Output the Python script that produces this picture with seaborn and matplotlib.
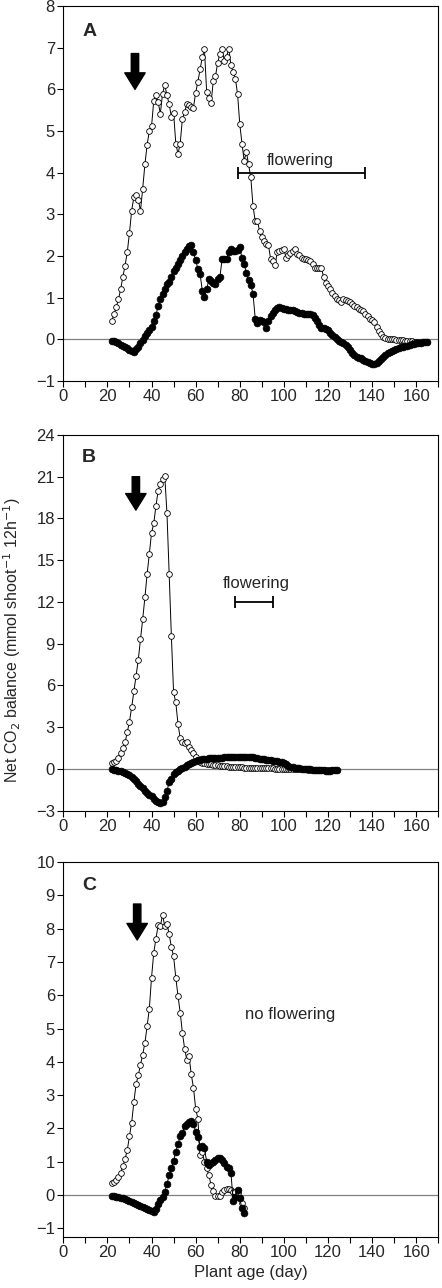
import matplotlib
matplotlib.use("Agg")
import matplotlib.pyplot as plt
import seaborn as sns
from matplotlib.ticker import MultipleLocator, FixedLocator
from matplotlib.patches import ArrowStyle

# ---------------- data ----------------
days_A = list(range(22, 166))
open_A = [0.45, 0.6, 0.77, 0.96, 1.2, 1.5, 1.77, 2.09, 2.56, 3.09,
          3.42, 3.46, 3.34, 3.09, 3.62, 4.2, 4.67, 5.0, 5.11, 5.72,
          5.86, 5.69, 5.42, 5.9, 6.1, 5.86, 5.64, 5.34, 5.44, 4.7,
          4.45, 4.7, 5.3, 5.45, 5.65, 5.62, 5.58, 5.56, 5.92, 6.18,
          6.48, 6.77, 6.96, 5.93, 5.8, 5.68, 6.2, 6.32, 6.64, 6.86,
          6.98, 6.68, 6.78, 6.98, 6.58, 6.42, 6.26, 5.89, 5.17, 4.7,
          4.29, 4.5, 4.2, 3.89, 3.2, 2.84, 2.84, 2.6, 2.45, 2.37,
          2.28, 2.26, 1.93, 1.88, 1.78, 2.09, 2.13, 2.15, 2.16, 1.96,
          2.02, 2.08, 2.12, 2.16, 2.06, 2.02, 1.96, 1.92, 1.92, 1.9,
          1.89, 1.82, 1.72, 1.72, 1.72, 1.72, 1.5, 1.36, 1.28, 1.2,
          1.12, 1.05, 0.98, 0.94, 0.9, 0.96, 0.95, 0.93, 0.9, 0.85,
          0.8, 0.77, 0.74, 0.7, 0.67, 0.62, 0.56, 0.5, 0.47, 0.42,
          0.3, 0.2, 0.12, 0.06, 0.02, 0.01, 0.0, 0.0, 0.0, -0.01,
          -0.01, -0.02, -0.02, -0.03, -0.04, -0.05, -0.05, -0.06, -0.06, -0.07,
          -0.07, -0.07, -0.07, -0.06]
filled_A = [-0.03, -0.05, -0.07, -0.1, -0.13, -0.15, -0.18, -0.21, -0.26, -0.29,
            -0.3, -0.24, -0.18, -0.1, -0.02, 0.07, 0.14, 0.22, 0.3, 0.45,
            0.58, 0.8, 0.98, 1.1, 1.22, 1.32, 1.38, 1.5, 1.63, 1.72,
            1.8, 1.9, 2.0, 2.1, 2.18, 2.25, 2.26, 2.09, 1.9, 1.7,
            1.58, 1.17, 1.02, 1.2, 1.44, 1.4, 1.36, 1.33, 1.46, 1.5,
            1.92, 1.94, 1.92, 2.1, 2.16, 2.12, 2.12, 2.14, 2.21, 1.95,
            1.8, 1.6, 1.42, 1.3, 1.1, 0.5, 0.4, 0.46, 0.44, 0.42,
            0.26, 0.45, 0.56, 0.64, 0.7, 0.75, 0.77, 0.76, 0.74, 0.72,
            0.7, 0.7, 0.7, 0.68, 0.66, 0.64, 0.63, 0.62, 0.61, 0.62,
            0.61, 0.58, 0.52, 0.44, 0.35, 0.28, 0.28, 0.25, 0.22, 0.16,
            0.1, 0.06, 0.0, -0.04, -0.06, -0.09, -0.13, -0.19, -0.26, -0.33,
            -0.38, -0.42, -0.44, -0.46, -0.49, -0.52, -0.55, -0.58, -0.59, -0.59,
            -0.57, -0.52, -0.47, -0.42, -0.38, -0.34, -0.31, -0.28, -0.26, -0.23,
            -0.21, -0.19, -0.18, -0.16, -0.15, -0.14, -0.12, -0.11, -0.1, -0.09,
            -0.08, -0.07, -0.07, -0.06]

days_B = list(range(22, 125))
open_B = [0.4, 0.53, 0.6, 0.77, 1.18, 1.49, 1.9, 2.64, 3.4, 4.44,
          5.57, 6.7, 7.85, 9.33, 10.77, 12.33, 14.0, 15.45, 16.97, 17.64,
          18.89, 20.0, 20.5, 20.85, 21.05, 18.36, 14.0, 9.52, 5.5, 4.78,
          3.24, 2.2, 1.97, 1.85, 1.9, 1.6, 1.37, 1.13, 0.84, 0.65,
          0.53, 0.45, 0.41, 0.38, 0.35, 0.33, 0.3, 0.28, 0.26, 0.24,
          0.22, 0.2, 0.19, 0.17, 0.16, 0.15, 0.14, 0.13, 0.12, 0.11,
          0.1, 0.1, 0.09, 0.09, 0.08, 0.08, 0.07, 0.07, 0.06, 0.06,
          0.05, 0.05, 0.04, 0.04, 0.03, 0.03, 0.02, 0.02, 0.01, 0.0,
          0.0, -0.01, -0.01, -0.02, -0.02, -0.03, -0.03, -0.04, -0.04, -0.05,
          -0.05, -0.06, -0.06, -0.07, -0.07, -0.08, -0.08, -0.08, -0.08, -0.08,
          -0.07, -0.07, -0.06]
filled_B = [-0.02, -0.05, -0.1, -0.14, -0.18, -0.24, -0.3, -0.38, -0.47, -0.58,
            -0.72, -0.88, -1.05, -1.2, -1.4, -1.56, -1.72, -1.85, -1.98, -2.15,
            -2.3, -2.4, -2.47, -2.4, -2.05, -1.6, -0.95, -0.7, -0.4, -0.25,
            -0.13, 0.0, 0.08, 0.15, 0.25, 0.35, 0.4, 0.5, 0.58, 0.63,
            0.67, 0.7, 0.72, 0.74, 0.76, 0.77, 0.78, 0.8, 0.81, 0.82,
            0.82, 0.83, 0.83, 0.84, 0.84, 0.85, 0.86, 0.87, 0.88, 0.89,
            0.89, 0.88, 0.87, 0.85, 0.83, 0.8, 0.77, 0.74, 0.71, 0.69,
            0.66, 0.64, 0.62, 0.6, 0.57, 0.54, 0.5, 0.47, 0.43, 0.35,
            0.2, 0.15, 0.12, 0.1, 0.07, 0.05, 0.03, 0.02, 0.0, -0.01,
            -0.03, -0.05, -0.06, -0.08, -0.09, -0.1, -0.11, -0.12, -0.12, -0.12,
            -0.11, -0.1, -0.09]

days_C = list(range(22, 83))
open_C = [0.35, 0.4, 0.45, 0.53, 0.67, 0.87, 1.08, 1.35, 1.77, 2.18,
          2.8, 3.33, 3.6, 3.92, 4.22, 4.57, 5.07, 5.59, 6.53, 7.27,
          7.7, 8.1, 8.07, 8.42, 8.07, 8.15, 7.83, 7.45, 7.17, 6.53,
          5.98, 5.48, 4.87, 4.4, 4.05, 4.18, 3.63, 3.23, 2.6, 2.3,
          1.2, 1.3, 1.0, 0.8, 0.6, 0.3, 0.13, -0.03, -0.03, -0.03,
          0.1, 0.15, 0.18, 0.18, 0.15, 0.1, 0.08, 0.05, -0.1, -0.23,
          -0.4]
filled_C = [-0.02, -0.04, -0.06, -0.07, -0.09, -0.1, -0.12, -0.14, -0.18, -0.22,
            -0.25, -0.28, -0.31, -0.34, -0.36, -0.39, -0.41, -0.44, -0.47, -0.5,
            -0.42, -0.28, -0.15, -0.05, 0.1, 0.33, 0.6, 0.8, 1.03, 1.3,
            1.52, 1.77, 1.87, 2.07, 2.13, 2.2, 2.22, 2.15, 1.9, 1.75,
            1.45, 1.47, 1.4, 1.0, 0.9, 0.95, 1.0, 1.05, 1.1, 1.1,
            1.05, 0.95, 0.85, 0.8, 0.67, -0.18, -0.05, 0.15, -0.1, -0.4,
            -0.55]

panel_letters = ["A", "B", "C"]
ylims = [(-1, 8), (-3, 24), (-1.25, 10)]
yticks = [list(range(-1, 9)), list(range(-3, 25, 3)), list(range(-1, 11))]
xticklabels = list(range(0, 161, 20))
arrow_day = [32.5, 32.9, 33.5]
arrow_top = [6.86, 21.0, 8.74]
arrow_tip = [6.0, 18.6, 7.66]
flower_span = [(79, 137), (78, 95), None]
flower_y = [4.0, 12.0, None]
annot_text = ["flowering", "flowering", "no flowering"]
annot_xy = [(107.5, 4.3), (87.3, 13.3), (102.7, 5.43)]

# ---------------- plot ----------------
sns.set_style("ticks")
plt.rcParams["font.family"] = ["Liberation Sans", "DejaVu Sans"]

fig = plt.figure(figsize=(4.42, 12.88), dpi=100)
left, width = 0.1432, 0.8484
axes = [fig.add_axes([left, 0.7042, width, 0.2911]),
        fig.add_axes([left, 0.3706, width, 0.2917]),
        fig.add_axes([left, 0.0398, width, 0.2909])]

datasets = [(days_A, open_A, filled_A), (days_B, open_B, filled_B), (days_C, open_C, filled_C)]
letter_y = [0.933, 0.939, 0.937]

for i, ax in enumerate(axes):
    d, o, f = datasets[i]
    ax.axhline(0, color="#808080", lw=0.9, zorder=0.5)
    sns.lineplot(x=d, y=o, ax=ax, color="black", lw=0.7, marker="o", markersize=4.1,
                 markerfacecolor="white", markeredgecolor="black", markeredgewidth=0.6,
                 estimator=None, sort=False, legend=False, zorder=2)
    sns.lineplot(x=d, y=f, ax=ax, color="black", lw=0.7, marker="o", markersize=4.9,
                 markerfacecolor="black", markeredgecolor="black", markeredgewidth=0.5,
                 estimator=None, sort=False, legend=False, zorder=3)
    ax.set_xlim(0, 170)
    ax.set_ylim(*ylims[i])
    ax.xaxis.set_major_locator(FixedLocator(xticklabels))
    ax.xaxis.set_minor_locator(MultipleLocator(10))
    ax.yaxis.set_major_locator(FixedLocator(yticks[i]))
    ax.tick_params(axis="both", which="both", direction="out", length=4, width=0.8,
                   labelsize=12, color="black", pad=2)
    for s in ax.spines.values():
        s.set_visible(True)
        s.set_linewidth(0.8)
        s.set_color("black")
    ax.set_xlabel("")
    ax.set_ylabel("")
    ax.text(0.05, letter_y[i], panel_letters[i], transform=ax.transAxes,
            fontsize=14, fontweight="bold", ha="left", va="center")
    ax.annotate("", xy=(arrow_day[i], arrow_tip[i]), xytext=(arrow_day[i], arrow_top[i]),
                arrowprops=dict(arrowstyle=ArrowStyle.Simple(head_length=0.85, head_width=1.05,
                                                             tail_width=0.38),
                                mutation_scale=14, color="black", shrinkA=0, shrinkB=0))
    if flower_span[i] is not None:
        x0, x1 = flower_span[i]
        ax.errorbar([(x0 + x1) / 2], [flower_y[i]], xerr=[(x1 - x0) / 2], fmt="none",
                    ecolor="black", elinewidth=1.3, capsize=4, capthick=1.3)
    ax.text(annot_xy[i][0], annot_xy[i][1], annot_text[i], ha="center", va="center",
            fontsize=12)

fig.text(0.027, 0.503, "Net CO$_2$ balance (mmol shoot$^{-1}$ 12h$^{-1}$)",
         rotation=90, ha="center", va="center", fontsize=11.5,
         family=["Liberation Sans Narrow", "Liberation Sans", "DejaVu Sans"])
fig.text(0.567, 0.0124, "Plant age (day)", ha="center", va="center", fontsize=12)

fig.savefig("out.png", dpi=100)
